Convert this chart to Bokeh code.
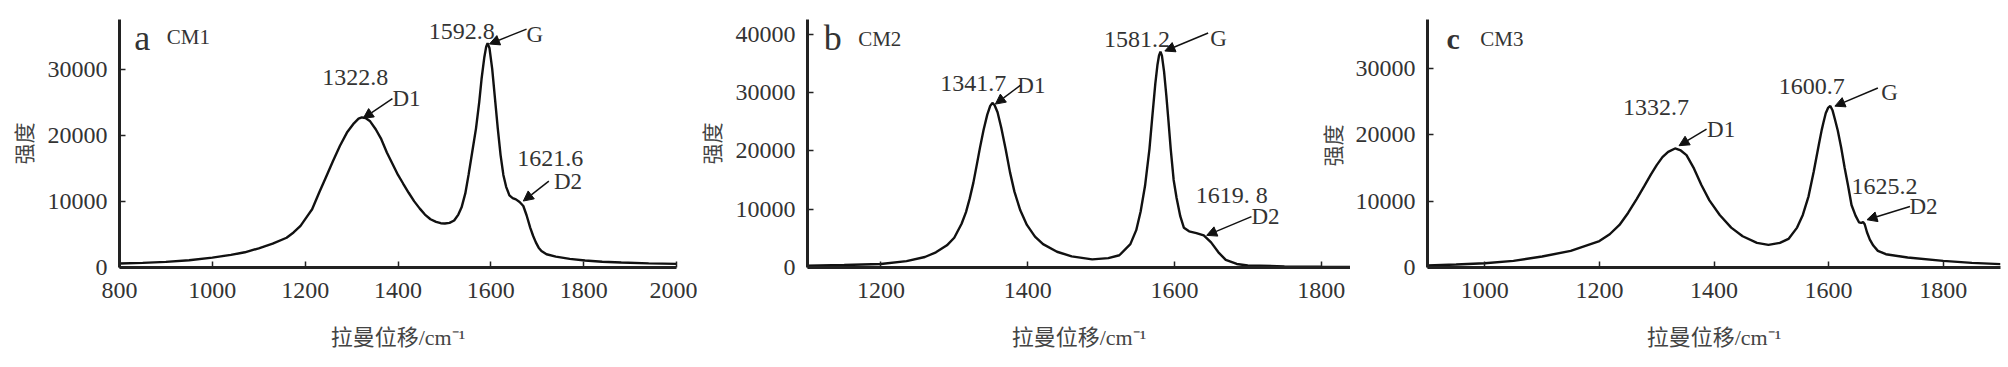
import math
from bokeh.plotting import figure
from bokeh.layouts import row
from bokeh.models import Range1d, FixedTicker, Label, Arrow, NormalHead
from bokeh.embed import file_html
from bokeh.resources import INLINE

# ---------------- data ----------------
# Panel a : CM1
cm1_shift = [800, 850, 900, 950, 1000, 1040, 1070, 1100, 1130, 1160, 1175, 1190, 1205, 1215,
             1230, 1245, 1260, 1275, 1290, 1305, 1315, 1322, 1330, 1340, 1352, 1364, 1376,
             1388, 1400, 1411, 1423, 1435, 1447, 1458, 1470, 1482, 1492, 1501, 1511, 1521,
             1530, 1537, 1545, 1552, 1560, 1568, 1575, 1580, 1586, 1590, 1593, 1597, 1603,
             1609, 1615, 1621, 1627, 1633, 1640, 1647, 1654, 1662, 1670, 1677, 1685, 1691,
             1697, 1703, 1709, 1720, 1740, 1770, 1803, 1840, 1881, 1940, 2000]
cm1_int = [600, 700, 850, 1100, 1500, 1900, 2300, 2900, 3600, 4500, 5300, 6300, 7800, 8800,
           11300, 13700, 16100, 18400, 20400, 21800, 22500, 22700, 22600, 22100, 20900, 19400, 17400,
           15700, 14000, 12700, 11300, 10000, 8900, 8000, 7300, 6900, 6700, 6650, 6750, 7100,
           8000, 9100, 11200, 14000, 17500, 21000, 25000, 28500, 31800, 33400, 33900, 33200, 30000,
           25500, 21000, 17000, 14000, 12200, 10900, 10500, 10300, 9900, 9300, 7900, 6000, 4800,
           3800, 3000, 2500, 2000, 1650, 1300, 1050, 880, 750, 620, 550]

# Panel b : CM2
cm2_shift = [1100, 1150, 1200, 1235, 1260, 1275, 1290, 1300, 1310, 1316, 1321, 1326, 1331, 1335,
             1340, 1345, 1349, 1352, 1355, 1359, 1364, 1370, 1376, 1382, 1390, 1399, 1410, 1421,
             1440, 1460, 1488, 1510, 1525, 1540, 1548, 1554, 1560, 1566, 1570, 1574, 1577, 1579,
             1581, 1583, 1586, 1589, 1592, 1595, 1599, 1603, 1608, 1613, 1620, 1630, 1640, 1650,
             1660, 1670, 1685, 1700, 1750, 1800, 1840]
cm2_int = [300, 420, 600, 1100, 1800, 2600, 3800, 5100, 7500, 9500, 11800, 14500, 17800, 20500,
           23600, 26200, 27700, 28200, 27800, 26600, 24000, 20300, 16300, 13000, 9800, 7300, 5300, 4000,
           2700, 1900, 1400, 1600, 2100, 4000, 6400, 9600, 14000, 20300, 26000, 31500, 34800, 36300,
           37000, 36300, 33500, 29500, 25000, 20300, 15000, 11900, 8800, 6800, 6200, 5900, 5500, 4300,
           2600, 1300, 600, 350, 200, 130, 100]

# Panel c : CM3
cm3_shift = [900, 950, 1000, 1050, 1100, 1150, 1200, 1218, 1235, 1250, 1265, 1278, 1290, 1300,
             1310, 1320, 1332, 1342, 1352, 1365, 1378, 1392, 1410, 1430, 1450, 1475, 1495, 1515,
             1530, 1545, 1555, 1565, 1574, 1583, 1588, 1591, 1595, 1599, 1603, 1607, 1611, 1616,
             1622, 1628, 1634, 1640, 1647, 1653, 1657, 1660, 1663, 1667, 1672, 1678, 1686, 1700,
             1738, 1800, 1850, 1900]
cm3_int = [300, 450, 640, 1000, 1650, 2500, 3970, 5000, 6400, 8200, 10300, 12200, 14000, 15400,
           16600, 17400, 17900, 17600, 16900, 14900, 12400, 10100, 7900, 6000, 4700, 3700, 3400, 3700,
           4300, 6000, 7900, 10700, 14400, 18500, 20700, 21800, 23200, 24000, 24300, 23600, 22300, 20600,
           18000, 15000, 12300, 9400, 7800, 6800, 6700, 6850, 6500, 5300, 4200, 3300, 2500, 2000,
           1500, 1000, 700, 500]

x_ticks_a = [800, 1000, 1200, 1400, 1600, 1800, 2000]
x_ticks_b = [1200, 1400, 1600, 1800]
x_ticks_c = [1000, 1200, 1400, 1600, 1800]
y_ticks_a = [0, 10000, 20000, 30000]
y_ticks_b = [0, 10000, 20000, 30000, 40000]
y_ticks_c = [0, 10000, 20000, 30000]

panel_letters = ["a", "b", "c"]
sample_names = ["CM1", "CM2", "CM3"]
peak_texts_a = ["1322.8", "1592.8", "1621.6"]
peak_texts_b = ["1341.7", "1581.2", "1619. 8"]
peak_texts_c = ["1332.7", "1600.7", "1625.2"]
band_names = ["D1", "G", "D2"]

X_LABEL = "拉曼位移/cm⁻¹"
Y_LABEL = "强度"

SERIF = "'Liberation Serif', 'Noto Sans CJK SC'"
TXT = "#333333"
NUM_SIZE = "24px"
BAND_SIZE = "23px"


def make_panel(xs, ys, xr, yr, xticks, yticks, width, bl, br, bt, bb, ylabel=True):
    p = figure(width=width, height=367, x_range=Range1d(*xr), y_range=Range1d(*yr),
               output_backend="svg", toolbar_location=None,
               min_border_left=bl, min_border_right=br,
               min_border_top=bt, min_border_bottom=bb)
    p.line(xs, ys, line_color="#111111", line_width=2.4)
    p.xgrid.visible = False
    p.ygrid.visible = False
    p.outline_line_color = None
    p.background_fill_color = None
    p.border_fill_color = None
    for ax in (p.xaxis[0], p.yaxis[0]):
        ax.axis_line_width = 3
        ax.axis_line_color = "#222222"
        ax.major_tick_in = 6
        ax.major_tick_out = 0
        ax.major_tick_line_width = 1.5
        ax.major_tick_line_color = "#222222"
        ax.minor_tick_line_color = None
        ax.major_label_text_font = "Liberation Serif"
        ax.major_label_text_font_size = "24px"
        ax.major_label_text_color = TXT
        ax.axis_label_text_font = SERIF
        ax.axis_label_text_font_size = "22px"
        ax.axis_label_text_font_style = "normal"
        ax.axis_label_text_color = "#444444"
    p.xaxis.ticker = FixedTicker(ticks=xticks)
    p.yaxis.ticker = FixedTicker(ticks=yticks)
    p.xaxis.major_label_standoff = 15
    p.yaxis.major_label_standoff = 12
    p.xaxis.axis_label = X_LABEL
    p.xaxis.axis_label_standoff = 24
    if ylabel:
        p.yaxis.axis_label = Y_LABEL
        p.yaxis.axis_label_standoff = 8
        p.yaxis.axis_label_text_font_size = "21px"
    return p


def add_text(p, x, y, text, size=NUM_SIZE, style="normal", angle=0.0,
             align="left", baseline="alphabetic", color=TXT):
    p.add_layout(Label(x=x, y=y, text=text, text_font="Liberation Serif",
                       text_font_size=size, text_font_style=style, text_color=color,
                       text_align=align, text_baseline=baseline, angle=angle))


def add_arrow(p, xs, ys, xe, ye):
    p.add_layout(Arrow(end=NormalHead(size=10, fill_color="#111111", line_color="#111111",
                                      line_width=1),
                       x_start=xs, y_start=ys, x_end=xe, y_end=ye,
                       line_width=1.5, line_color="#111111"))


# ---------------- panel a ----------------
pa = make_panel(cm1_shift, cm1_int, (800, 2000), (0, 37500), x_ticks_a, y_ticks_a,
                697, 119, 21, 17, 100)
add_text(pa, 832, 34650, panel_letters[0], size="36px")
add_text(pa, 902, 34800, sample_names[0], size="21px")
add_text(pa, 1237, 28800, peak_texts_a[0])
add_text(pa, 1388, 25500, band_names[0], size=BAND_SIZE)
add_text(pa, 1466, 35700, peak_texts_a[1])
add_text(pa, 1677, 35300, band_names[1], size=BAND_SIZE)
add_text(pa, 1657, 16550, peak_texts_a[2])
add_text(pa, 1736, 13050, band_names[2], size=BAND_SIZE)
add_arrow(pa, 1388, 25550, 1325, 22550)
add_arrow(pa, 1677, 36050, 1597, 33800)
add_arrow(pa, 1725, 13050, 1670, 10050)

# ---------------- panel b ----------------
pb = make_panel(cm2_shift, cm2_int, (1100, 1840), (0, 42500), x_ticks_b, y_ticks_b,
                653, 106, 0, 18, 97)
add_text(pb, 1122, 39350, panel_letters[1], size="36px")
add_text(pb, 1169, 39080, sample_names[1], size="21px")
add_text(pb, 1281, 31490, peak_texts_b[0])
add_text(pb, 1386, 31200, band_names[0], size=BAND_SIZE)
add_text(pb, 1504, 39080, peak_texts_b[1])
add_text(pb, 1649, 39300, band_names[1], size=BAND_SIZE)
add_text(pb, 1629, 12360, peak_texts_b[2])
add_text(pb, 1705, 8720, band_names[2], size=BAND_SIZE)
add_arrow(pb, 1390, 31200, 1356, 28000)
add_arrow(pb, 1646, 40190, 1587, 37100)
add_arrow(pb, 1705, 8720, 1644, 5510)
# y-axis title of panel c falls inside the area of panel b's figure
pb.add_layout(Label(x=1818, y=20910, text=Y_LABEL, text_font=SERIF, text_font_size="21px",
                    text_color="#444444", text_align="center", text_baseline="middle",
                    angle=math.pi / 2))

# ---------------- panel c ----------------
pc = make_panel(cm3_shift, cm3_int, (900, 1900), (0, 37300), x_ticks_c, y_ticks_c,
                658, 77, 8, 19, 97, ylabel=False)
add_text(pc, 933, 34430, panel_letters[2], size="30px", style="bold")
add_text(pc, 992, 34430, sample_names[2], size="21px")
add_text(pc, 1241, 24030, peak_texts_c[0])
add_text(pc, 1388, 20800, band_names[0], size=BAND_SIZE)
add_text(pc, 1513, 27240, peak_texts_c[1])
add_text(pc, 1692, 26260, band_names[1], size=BAND_SIZE)
add_text(pc, 1640, 12140, peak_texts_c[2])
add_text(pc, 1741, 9170, band_names[2], size=BAND_SIZE)
add_arrow(pc, 1387, 20800, 1339, 18320)
add_arrow(pc, 1686, 27000, 1611, 24270)
add_arrow(pc, 1742, 9170, 1667, 7180)

layout = row(pa, pb, pc, spacing=0)
open("out.html", "w").write(file_html(layout, INLINE))
